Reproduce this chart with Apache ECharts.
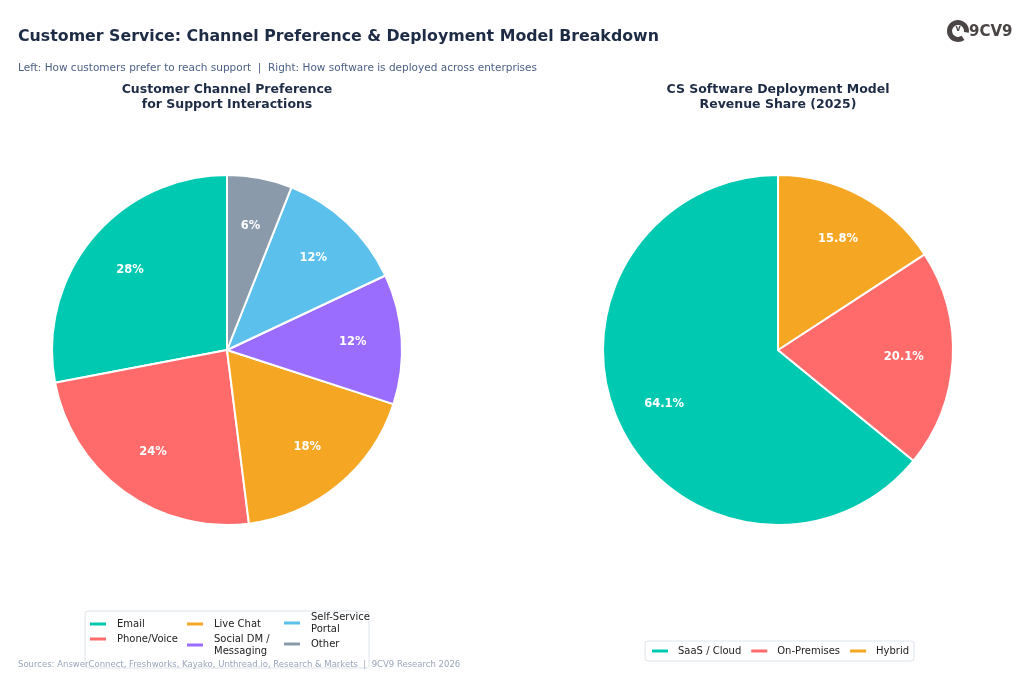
<!DOCTYPE html>
<html>
<head>
<meta charset="utf-8">
<title>Customer Service Breakdown</title>
<script src="https://cdn.jsdelivr.net/npm/echarts@6/dist/echarts.min.js"></script>
<style>
    html, body { margin: 0; padding: 0; background: #fff; }
    #main { width: 1024px; height: 678px; }
</style>
</head>
<body>
<div id="main"></div>
<script>
// 左边：客户渠道偏好
const channelNames = ['Email', 'Phone/Voice', 'Live Chat', 'Social DM / Messaging', 'Self-Service Portal', 'Other'];
const channelValues = [28, 24, 18, 12, 12, 6];
const channelColors = ['#00c9b1', '#ff6b6b', '#f5a623', '#9b6dff', '#5bc0eb', '#8a9aab'];

// 右边：部署模式
const deployNames = ['SaaS / Cloud', 'On-Premises', 'Hybrid'];
const deployValues = [64.1, 20.1, 15.8];
const deployColors = ['#00c9b1', '#ff6b6b', '#f5a623'];

// 图例里换行的名字
const wrapNames = {
    'Social DM / Messaging': 'Social DM /\nMessaging',
    'Self-Service Portal': 'Self-Service\nPortal'
};

const font = 'DejaVu Sans';
const navy = '#1e2b45';

let toData = (names, values, colors) => names.map((n, i) => ({
    name: n,
    value: values[i],
    itemStyle: { color: colors[i] }
}));

// 饼图本体
let pieSeries = (center, data) => ({
    type: 'pie',
    center: center,
    radius: [0, 175],
    startAngle: 90,
    clockwise: false,
    data: data,
    label: { show: false },
    labelLine: { show: false },
    itemStyle: { borderColor: '#fff', borderWidth: 2 },
    emphasis: { scale: false }
});

// 透明的环，只用来放百分比标签（位置更靠外）
let labelSeries = (center, data, digits) => ({
    type: 'pie',
    center: center,
    radius: [72, 174],
    startAngle: 90,
    clockwise: false,
    silent: true,
    data: data.map(d => ({ name: d.name, value: d.value, itemStyle: { color: 'transparent' } })),
    itemStyle: { borderWidth: 0 },
    labelLine: { show: false },
    label: {
        show: true,
        position: 'inside',
        color: '#fff',
        fontFamily: font,
        fontWeight: 'bold',
        fontSize: 11.5,
        formatter: p => p.value.toFixed(digits) + '%'
    }
});

// 左边图例：三列
let legendCol = (left, top, names) => ({
    orient: 'vertical',
    left: left,
    top: top,
    data: names,
    icon: 'rect',
    itemWidth: 18,
    itemHeight: 5,
    itemGap: 3,
    padding: 0,
    formatter: n => wrapNames[n] || n,
    textStyle: { fontFamily: font, fontSize: 10, color: '#222', lineHeight: 12, padding: [0, 0, 0, 5] }
});

const channelData = toData(channelNames, channelValues, channelColors);
const deployData = toData(deployNames, deployValues, deployColors);

let chart = echarts.init(document.getElementById('main'));

let option = {
    animation: false,
    backgroundColor: '#fff',
    title: [
        {
            text: 'Customer Service: Channel Preference & Deployment Model Breakdown',
            left: 18, top: 29, padding: 0,
            textStyle: { fontFamily: font, fontSize: 15.8, fontWeight: 'bold', color: navy }
        },
        {
            text: 'Left: How customers prefer to reach support  |  Right: How software is deployed across enterprises',
            left: 18, top: 63, padding: 0,
            textStyle: { fontFamily: font, fontSize: 10.5, fontWeight: 'normal', color: '#4a5f85' }
        },
        {
            text: 'Customer Channel Preference\nfor Support Interactions',
            left: 227, top: 82, padding: 0, textAlign: 'center',
            textStyle: { fontFamily: font, fontSize: 12.5, fontWeight: 'bold', color: navy, lineHeight: 15 }
        },
        {
            text: 'CS Software Deployment Model\nRevenue Share (2025)',
            left: 778, top: 82, padding: 0, textAlign: 'center',
            textStyle: { fontFamily: font, fontSize: 12.5, fontWeight: 'bold', color: navy, lineHeight: 15 }
        },
        {
            text: 'Sources: AnswerConnect, Freshworks, Kayako, Unthread.io, Research & Markets  |  9CV9 Research 2026',
            left: 18, top: 660, padding: 0,
            textStyle: { fontFamily: font, fontSize: 8.5, fontWeight: 'normal', color: '#9aa6b8' }
        }
    ],
    legend: [
        legendCol(88, 618, channelNames.slice(0, 2)),
        legendCol(185, 618, channelNames.slice(2, 4)),
        legendCol(282, 611, channelNames.slice(4, 6)),
        {
            orient: 'horizontal',
            left: 645,
            top: 641,
            data: deployNames,
            icon: 'rect',
            itemWidth: 18,
            itemHeight: 5,
            itemGap: 8,
            padding: [4, 5],
            borderColor: '#dde3ea',
            borderWidth: 1,
            borderRadius: 3,
            textStyle: { fontFamily: font, fontSize: 10, color: '#222', lineHeight: 12, padding: [0, 0, 0, 4] }
        }
    ],
    graphic: [
        // 左边图例的外框
        {
            type: 'rect',
            shape: { x: 85, y: 611, width: 284, height: 57, r: 3 },
            style: { fill: '#fff', stroke: '#dde3ea', lineWidth: 1 },
            z: -1
        },
        // logo
        {
            type: 'arc',
            shape: { cx: 958, cy: 31, r: 8.5, startAngle: Math.PI * 0.3, endAngle: Math.PI * 2.05, clockwise: true },
            style: { stroke: '#4a4444', lineWidth: 5, fill: null }
        },
        {
            type: 'text',
            x: 958, y: 29,
            style: { text: 'v', fontFamily: font, fontSize: 8, fontWeight: 'bold', fill: '#4a4444', align: 'center', verticalAlign: 'middle' }
        },
        {
            type: 'text',
            x: 969, y: 32,
            style: { text: '9CV9', fontFamily: font, fontSize: 15, fontWeight: 'bold', fill: '#4a4444', verticalAlign: 'middle' }
        }
    ],
    series: [
        pieSeries([227, 350], channelData),
        labelSeries([227, 350], channelData, 0),
        pieSeries([778, 350], deployData),
        labelSeries([778, 350], deployData, 1)
    ]
};

chart.setOption(option);
</script>
</body>
</html>
